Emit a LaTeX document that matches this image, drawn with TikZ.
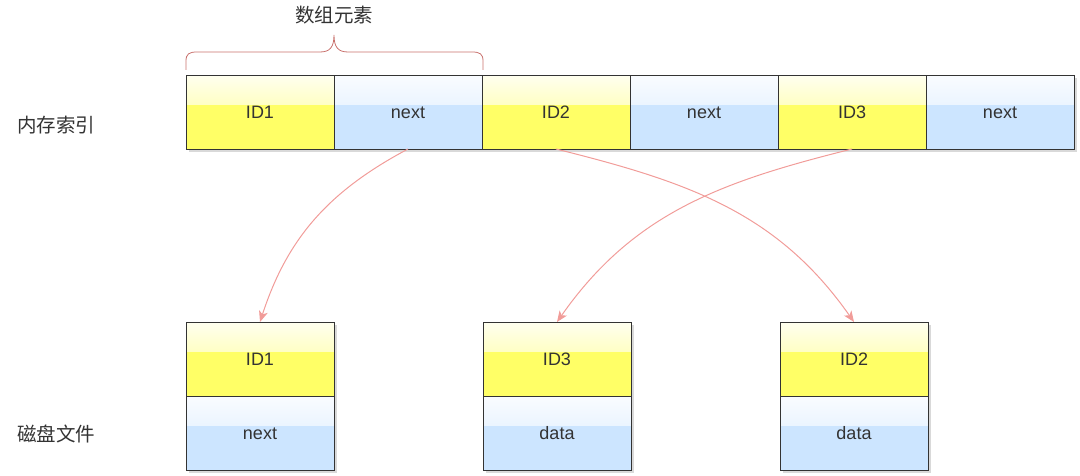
\documentclass[tikz,border=0pt]{standalone}
\usepackage{fontspec}
\setmainfont{Liberation Sans}
\newfontfamily\cjk{Noto Sans CJK SC}
\usetikzlibrary{positioning,shadows,fadings,calc,arrows.meta}

\definecolor{idyellow}{HTML}{FFFF66}
\definecolor{ptrblue}{HTML}{CCE5FF}
\definecolor{linkred}{HTML}{F19C99}
\definecolor{bracered}{HTML}{C8706C}
\definecolor{txtgray}{HTML}{333333}

\tikzfading[name=glassfade, top color=transparent!10, bottom color=transparent!80]

\tikzset{
  cell/.style={rectangle, draw=black!80, line width=0.8pt, outer sep=0pt, inner sep=0pt,
    minimum width=148pt, minimum height=74pt, text=txtgray,
    text height=13pt, text depth=0pt,
    font=\fontsize{18}{20}\selectfont,
    drop shadow={shadow xshift=3pt, shadow yshift=-3pt, opacity=0.3},
    path picture={\fill[white, path fading=glassfade]
      (path picture bounding box.north west) rectangle
      ($(path picture bounding box.north east)!0.4!(path picture bounding box.south east)$);}},
  idcell/.style={cell, fill=idyellow},
  ptrcell/.style={cell, fill=ptrblue},
  link/.style={-{Stealth[length=11pt,width=9pt,inset=3pt]}, draw=linkred, line width=1pt},
  side/.style={font=\cjk\fontsize{19.5}{22}\selectfont, text=txtgray}
}

\begin{document}
\begin{tikzpicture}[x=1pt,y=1pt]
\useasboundingbox (0,0) rectangle (1080,475);

% memory index row
\node (id1) [idcell, anchor=north west] at (186,400) {ID1};
\node (nx1) [ptrcell, right=0pt of id1] {next};
\node (id2) [idcell, right=0pt of nx1] {ID2};
\node (nx2) [ptrcell, right=0pt of id2] {next};
\node (id3) [idcell, right=0pt of nx2] {ID3};
\node (nx3) [ptrcell, right=0pt of id3] {next};

% disk file blocks
\node (f1) [idcell, anchor=north west] at (186,153) {ID1};
\node (f1n) [ptrcell, below=0pt of f1] {next};
\node (f3) [idcell, anchor=north west] at (483,153) {ID3};
\node (f3d) [ptrcell, below=0pt of f3] {data};
\node (f2) [idcell, anchor=north west] at (780,153) {ID2};
\node (f2d) [ptrcell, below=0pt of f2] {data};

\node (mem) [side] at (56,350) {内存索引};
\node (disk) [side] at (56,41) {磁盘文件};
\node (arr) [side] at (334,460) {数组元素};

% brace over the first element
\draw [bracered, line width=0.8pt]
  (186,405) -- (186,414) .. controls (186,421) and (189,423) .. (197,423)
  -- (320,423) .. controls (330,423) and (334,428) .. (334,440)
  .. controls (334,428) and (338,423) .. (348,423)
  -- (472,423) .. controls (480,423) and (483,421) .. (483,414) -- (483,405);

\draw [link] (nx1.south) to[out=208,in=72] (f1.north);
\draw [link] (id2.south) to[out=-14,in=125] (f2.north);
\draw [link] (id3.south) to[out=194,in=55] (f3.north);
\end{tikzpicture}
\end{document}
